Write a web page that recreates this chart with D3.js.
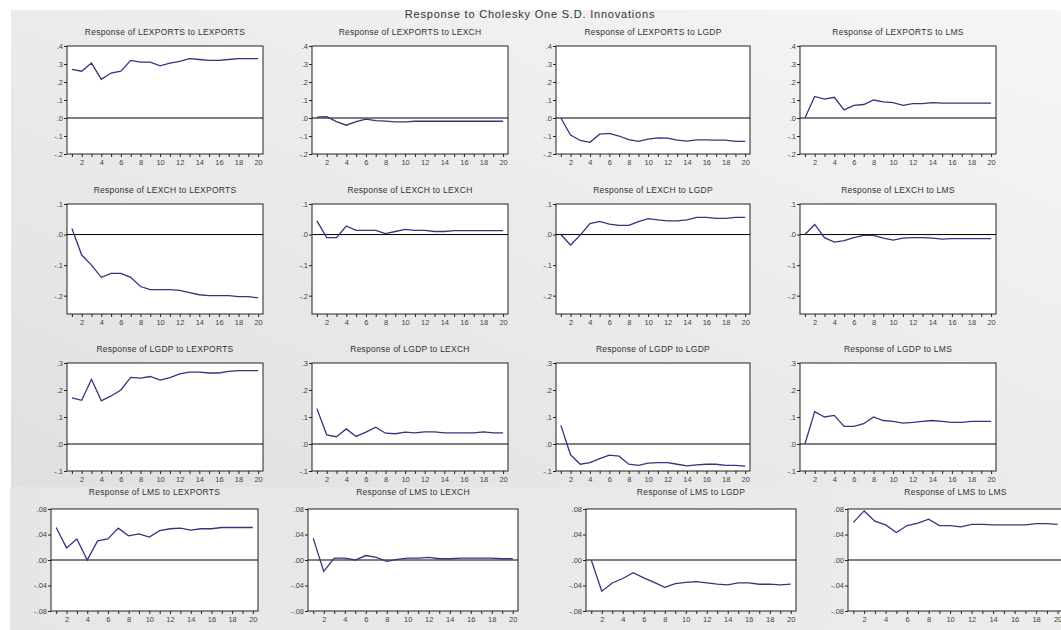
<!DOCTYPE html>
<html>
<head>
<meta charset="utf-8">
<script src="https://cdn.jsdelivr.net/npm/d3@7"></script>
<style>
  body { margin: 0; background: #fff; }
  svg { display: block; font-family: "Liberation Sans", Arial, sans-serif; }
</style>
</head>
<body>
<div id="chart"></div>
<script>
// periods and variable names
const periods = d3.range(1, 21);
const variables = ["LEXPORTS", "LEXCH", "LGDP", "LMS"];
const mainTitle = "Response to Cholesky One S.D. Innovations";

// responses (row = responding variable, col = shock)
const lexportsToLexports = [0.27, 0.26, 0.305, 0.215, 0.25, 0.26, 0.32, 0.31, 0.31, 0.29, 0.305, 0.315, 0.33, 0.325, 0.32, 0.32, 0.325, 0.33, 0.33, 0.33];
const lexportsToLexch = [0.005, 0.007, -0.02, -0.04, -0.02, -0.006, -0.015, -0.017, -0.022, -0.022, -0.018, -0.018, -0.018, -0.018, -0.018, -0.018, -0.018, -0.018, -0.018, -0.018];
const lexportsToLgdp = [0, -0.095, -0.125, -0.135, -0.09, -0.085, -0.1, -0.12, -0.13, -0.117, -0.11, -0.112, -0.123, -0.128, -0.122, -0.122, -0.123, -0.123, -0.13, -0.13];
const lexportsToLms = [0, 0.12, 0.105, 0.115, 0.045, 0.07, 0.075, 0.1, 0.09, 0.085, 0.07, 0.08, 0.08, 0.085, 0.083, 0.083, 0.083, 0.083, 0.083, 0.083];

const lexchToLexports = [0.02, -0.067, -0.1, -0.14, -0.127, -0.127, -0.14, -0.17, -0.18, -0.18, -0.18, -0.183, -0.19, -0.197, -0.2, -0.2, -0.2, -0.203, -0.203, -0.207];
const lexchToLexch = [0.045, -0.01, -0.01, 0.028, 0.014, 0.014, 0.014, 0.003, 0.01, 0.017, 0.014, 0.014, 0.01, 0.01, 0.013, 0.013, 0.013, 0.013, 0.013, 0.013];
const lexchToLgdp = [0, -0.034, -0.002, 0.036, 0.043, 0.034, 0.03, 0.03, 0.042, 0.052, 0.048, 0.045, 0.045, 0.048, 0.056, 0.056, 0.053, 0.053, 0.056, 0.056];
const lexchToLms = [0, 0.033, -0.01, -0.025, -0.02, -0.01, -0.003, -0.003, -0.012, -0.018, -0.012, -0.01, -0.01, -0.012, -0.015, -0.013, -0.013, -0.013, -0.013, -0.013];

const lgdpToLexports = [0.171, 0.162, 0.24, 0.16, 0.178, 0.2, 0.247, 0.244, 0.25, 0.237, 0.246, 0.26, 0.266, 0.266, 0.263, 0.263, 0.269, 0.272, 0.272, 0.272];
const lgdpToLexch = [0.131, 0.034, 0.027, 0.056, 0.028, 0.044, 0.062, 0.04, 0.038, 0.044, 0.041, 0.045, 0.045, 0.041, 0.041, 0.041, 0.041, 0.045, 0.041, 0.041];
const lgdpToLgdp = [0.069, -0.04, -0.075, -0.069, -0.054, -0.041, -0.045, -0.075, -0.079, -0.071, -0.069, -0.069, -0.075, -0.081, -0.077, -0.075, -0.075, -0.079, -0.079, -0.082];
const lgdpToLms = [0, 0.12, 0.1, 0.106, 0.065, 0.065, 0.075, 0.1, 0.087, 0.084, 0.077, 0.08, 0.084, 0.087, 0.084, 0.08, 0.08, 0.084, 0.084, 0.084];

const lmsToLexports = [0.051, 0.019, 0.033, 0.0, 0.03, 0.033, 0.05, 0.038, 0.041, 0.036, 0.046, 0.049, 0.05, 0.047, 0.049, 0.049, 0.051, 0.051, 0.051, 0.051];
const lmsToLexch = [0.034, -0.018, 0.003, 0.003, 0.0, 0.007, 0.004, -0.002, 0.001, 0.003, 0.003, 0.004, 0.002, 0.002, 0.003, 0.003, 0.003, 0.003, 0.002, 0.002];
const lmsToLgdp = [0, -0.049, -0.036, -0.029, -0.02, -0.028, -0.035, -0.043, -0.037, -0.035, -0.034, -0.036, -0.038, -0.039, -0.036, -0.036, -0.038, -0.038, -0.039, -0.038];
const lmsToLms = [0.059, 0.077, 0.061, 0.055, 0.043, 0.054, 0.058, 0.064, 0.054, 0.054, 0.052, 0.056, 0.056, 0.055, 0.055, 0.055, 0.055, 0.057, 0.057, 0.056];

// y axis ticks per row
const rowTicks = [
  [-0.2, -0.1, 0, 0.1, 0.2, 0.3, 0.4],
  [-0.2, -0.1, 0, 0.1],
  [-0.1, 0, 0.1, 0.2, 0.3],
  [-0.08, -0.04, 0, 0.04, 0.08]
];
const rowDomains = [[-0.2, 0.4], [-0.26, 0.1], [-0.1, 0.3], [-0.08, 0.08]];

const responses = [
  [lexportsToLexports, lexportsToLexch, lexportsToLgdp, lexportsToLms],
  [lexchToLexports, lexchToLexch, lexchToLgdp, lexchToLms],
  [lgdpToLexports, lgdpToLexch, lgdpToLgdp, lgdpToLms],
  [lmsToLexports, lmsToLexch, lmsToLgdp, lmsToLms]
];

// layout (pixel boxes) - the bottom row comes from a second pasted screenshot
const rowBoxes = [[46, 154], [204, 314], [363, 471], [509, 611]];
const colBoxes = [[67, 263], [312, 508], [556, 750], [800, 996]];
const lastRowColBoxes = [[51, 258], [308, 518], [586, 796], [848, 1063]];

const W = 1061, H = 630;
const svg = d3.select("#chart").append("svg")
  .attr("width", W)
  .attr("height", H);

const defs = svg.append("defs");
const g1 = defs.append("linearGradient").attr("id", "bg1")
  .attr("x1", "100%").attr("y1", "0%").attr("x2", "0%").attr("y2", "100%");
g1.append("stop").attr("offset", "0%").attr("stop-color", "#f6f6f6");
g1.append("stop").attr("offset", "100%").attr("stop-color", "#e0e0e0");
const g2 = defs.append("linearGradient").attr("id", "bg2")
  .attr("x1", "0%").attr("y1", "0%").attr("x2", "100%").attr("y2", "0%");
g2.append("stop").attr("offset", "0%").attr("stop-color", "#e6e6e6");
g2.append("stop").attr("offset", "100%").attr("stop-color", "#ececec");
defs.append("clipPath").attr("id", "topclip")
  .append("rect").attr("x", 11).attr("y", 10).attr("width", W - 11).attr("height", 477);

// backgrounds of the two screenshots
svg.append("rect").attr("x", 11).attr("y", 10).attr("width", W - 11).attr("height", 477)
  .attr("fill", "url(#bg1)");
svg.append("rect").attr("x", 10).attr("y", 487).attr("width", W - 10).attr("height", H - 487)
  .attr("fill", "url(#bg2)");

svg.append("text")
  .attr("clip-path", "url(#topclip)")
  .attr("x", 530)
  .attr("y", 18)
  .attr("text-anchor", "middle")
  .style("font-size", "11px")
  .style("letter-spacing", "0.8px")
  .attr("fill", "#333")
  .text(mainTitle);

responses.forEach((row, r) => {
  const [top, bottom] = [rowBoxes[r][0], rowBoxes[r][1]];
  const cols = r === 3 ? lastRowColBoxes : colBoxes;
  row.forEach((values, c) => {
    const [left, right] = cols[c];
    const x = d3.scaleLinear().domain([0.5, 20.5]).range([left, right]);
    const y = d3.scaleLinear().domain(rowDomains[r]).range([bottom, top]);
    const panel = svg.append("g");

    panel.append("rect")
      .attr("x", left).attr("y", top)
      .attr("width", right - left).attr("height", bottom - top)
      .attr("fill", "#fff")
      .attr("stroke", "#222")
      .attr("stroke-width", 1);

    panel.append("text")
      .attr("x", (left + right) / 2)
      .attr("y", top - (r === 3 ? 14 : 11))
      .attr("text-anchor", "middle")
      .style("font-size", "8.5px")
      .style("letter-spacing", "0.25px")
      .attr("fill", "#333")
      .text(`Response of ${variables[r]} to ${variables[c]}`);

    const dec = r === 3 ? 2 : 1;
    const yAxis = d3.axisLeft(y)
      .tickValues(rowTicks[r])
      .tickSize(3)
      .tickFormat(v => {
        const s = Math.abs(v).toFixed(dec).replace(/^0/, "");
        return v < 0 ? "-" + s : s;
      });
    panel.append("g")
      .attr("transform", `translate(${left},0)`)
      .call(yAxis)
      .call(a => a.select(".domain").remove())
      .call(a => a.selectAll("line").attr("stroke", "#222"))
      .call(a => a.selectAll("text").attr("fill", "#444").style("font-size", "7.5px").attr("x", -4));

    const xAxis = d3.axisBottom(x)
      .tickValues(periods)
      .tickSize(3)
      .tickFormat(d => d % 2 === 0 ? d : "");
    panel.append("g")
      .attr("transform", `translate(0,${bottom})`)
      .call(xAxis)
      .call(a => a.select(".domain").remove())
      .call(a => a.selectAll("line").attr("stroke", "#222"))
      .call(a => a.selectAll("text").attr("fill", "#444").style("font-size", "7.5px").attr("y", 6));

    // zero line
    panel.append("line")
      .attr("x1", left).attr("x2", right)
      .attr("y1", y(0)).attr("y2", y(0))
      .attr("stroke", "#000")
      .attr("stroke-width", 1);

    panel.append("path")
      .datum(values)
      .attr("fill", "none")
      .attr("stroke", "#34347f")
      .attr("stroke-width", 1.3)
      .attr("d", d3.line()
        .x((d, i) => x(periods[i]))
        .y(d => y(d)));
  });
});
</script>
</body>
</html>
